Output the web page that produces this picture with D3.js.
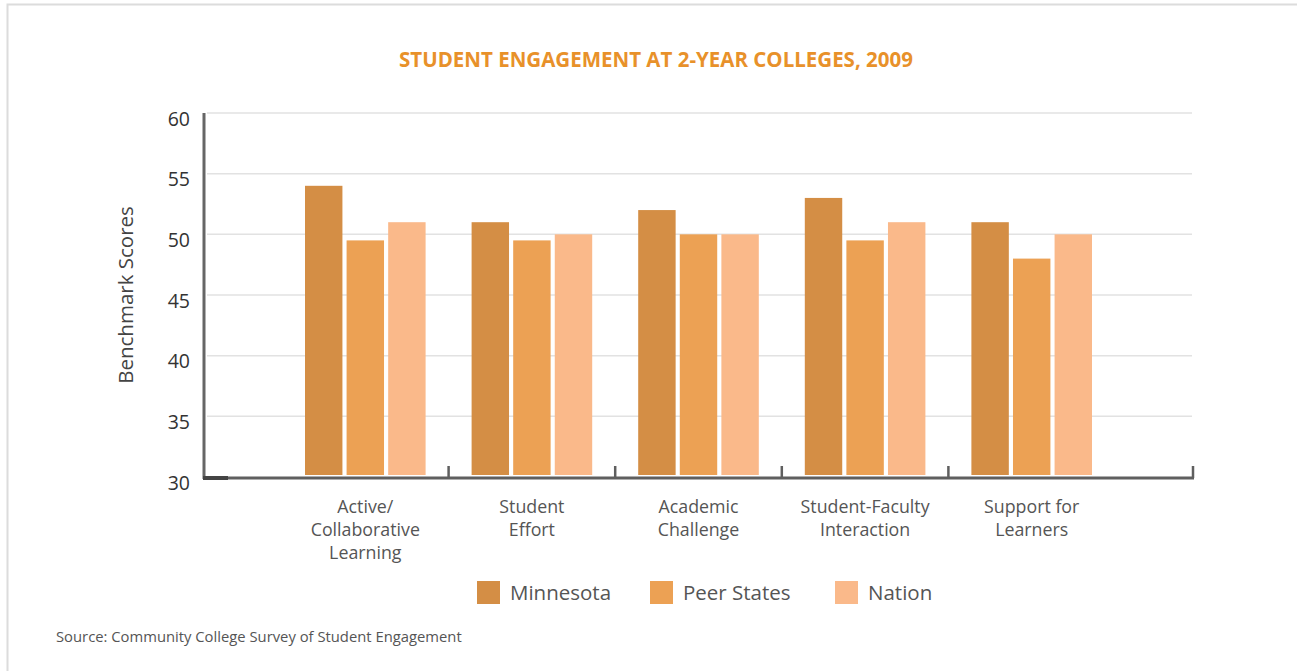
<!DOCTYPE html>
<html>
<head>
<meta charset="utf-8">
<script src="https://cdn.jsdelivr.net/npm/d3@7"></script>
<style>
  body { margin: 0; background: #fff; }
  svg { display: block; font-family: "Open Sans", "Noto Sans", sans-serif; }
</style>
</head>
<body>
<div id="container"></div>
<script>
const categories = [
  ['Active/', 'Collaborative', 'Learning'],
  ['Student', 'Effort'],
  ['Academic', 'Challenge'],
  ['Student-Faculty', 'Interaction'],
  ['Support for', 'Learners']
];
const seriesNames = ['Minnesota', 'Peer States', 'Nation'];
const minnesota = [54, 51, 52, 53, 51];
const peerStates = [49.5, 49.5, 50, 49.5, 48];
const nation = [51, 50, 50, 51, 50];
const yTicks = [30, 35, 40, 45, 50, 55, 60];
const colors = ['#d48e45', '#eca154', '#fab98a'];

const W = 1297, H = 671;
const svg = d3.select('#container')
  .append('svg')
  .attr('width', W)
  .attr('height', H);

// frame border
svg.append('rect')
  .attr('x', 7.5).attr('y', 4.5)
  .attr('width', W + 10).attr('height', H + 10)
  .style('fill', 'none')
  .style('stroke', '#dcdcdc')
  .style('stroke-width', 2);

svg.append('text')
  .attr('x', 656).attr('y', 67)
  .attr('text-anchor', 'middle')
  .style('font-size', '20.5px')
  .style('font-weight', 700)
  .style('fill', '#e8912a')
  .text('STUDENT ENGAGEMENT AT 2-YEAR COLLEGES, 2009');

const keys = categories.map(c => c.join(' '));
const x = d3.scaleBand().domain(keys).range([282, 1115]).paddingInner(0).paddingOuter(0);
const x1 = d3.scaleBand().domain(seriesNames).range([23, x.bandwidth() - 23]).paddingInner(0.1);
const y = d3.scaleLinear().domain([30, 60]).range([477, 113]);

// gridlines
svg.append('g')
  .selectAll('line')
  .data(yTicks.filter(t => t > 30))
  .join('line')
  .attr('x1', 207).attr('x2', 1192)
  .attr('y1', d => y(d)).attr('y2', d => y(d))
  .style('stroke', '#e2e2e2')
  .style('stroke-width', 1.5);

// y axis
const yAxis = svg.append('g')
  .attr('transform', 'translate(204,6)')
  .call(d3.axisLeft(y).tickValues(yTicks).tickSize(0).tickPadding(14));
yAxis.select('.domain').remove();
yAxis.selectAll('text')
  .style('font-size', '19.5px')
  .style('font-family', '"Open Sans", sans-serif')
  .style('fill', '#333');

svg.append('line')
  .attr('x1', 204).attr('x2', 204)
  .attr('y1', y(60)).attr('y2', y(30) + 2)
  .style('stroke', '#666')
  .style('stroke-width', 3);

svg.append('text')
  .attr('transform', `translate(133,${(y(30) + y(60)) / 2}) rotate(-90)`)
  .attr('text-anchor', 'middle')
  .style('font-size', '20.5px')
  .style('fill', '#444')
  .text('Benchmark Scores');

// bars
const series = [minnesota, peerStates, nation];
const groups = svg.append('g')
  .selectAll('g')
  .data(keys)
  .join('g')
  .attr('transform', d => `translate(${x(d)},0)`);

groups.selectAll('rect')
  .data((d, i) => seriesNames.map((s, j) => ({ s, v: series[j][i], c: colors[j] })))
  .join('rect')
  .attr('x', d => x1(d.s))
  .attr('width', x1.bandwidth())
  .attr('y', d => y(d.v))
  .attr('height', d => y(30) - y(d.v) - 2)
  .style('fill', d => d.c);

// x axis
svg.append('line')
  .attr('x1', 203).attr('x2', 1194)
  .attr('y1', 478).attr('y2', 478)
  .style('stroke', '#5f5f5f')
  .style('stroke-width', 3);
svg.append('line')
  .attr('x1', 203).attr('x2', 228)
  .attr('y1', 478).attr('y2', 478)
  .style('stroke', '#444')
  .style('stroke-width', 4);

const tickXs = keys.slice(1).map(k => x(k)).concat([1193]);
svg.append('g')
  .selectAll('line')
  .data(tickXs)
  .join('line')
  .attr('x1', d => d).attr('x2', d => d)
  .attr('y1', 466).attr('y2', 478)
  .style('stroke', '#5f5f5f')
  .style('stroke-width', 2.5);

// category labels
const labels = svg.append('g')
  .selectAll('text')
  .data(categories)
  .join('text')
  .attr('x', (d, i) => x(keys[i]) + x.bandwidth() / 2)
  .attr('y', 513)
  .attr('text-anchor', 'middle')
  .style('font-size', '17.8px')
  .style('fill', '#555');
labels.selectAll('tspan')
  .data(d => d)
  .join('tspan')
  .attr('x', function () { return d3.select(this.parentNode).attr('x'); })
  .attr('dy', (d, i) => i === 0 ? 0 : 23)
  .text(d => d);

// legend
const legendX = [477, 650, 835];
const legend = svg.append('g')
  .selectAll('g')
  .data(seriesNames)
  .join('g')
  .attr('transform', (d, i) => `translate(${legendX[i]},581)`);
legend.append('rect')
  .attr('width', 23).attr('height', 23)
  .style('fill', (d, i) => colors[i]);
legend.append('text')
  .attr('x', 33).attr('y', 19)
  .style('font-size', '20.5px')
  .style('fill', '#555')
  .text(d => d);

svg.append('text')
  .attr('x', 56).attr('y', 642)
  .style('font-size', '14.8px')
  .style('fill', '#555')
  .text('Source: Community College Survey of Student Engagement');
</script>
</body>
</html>
